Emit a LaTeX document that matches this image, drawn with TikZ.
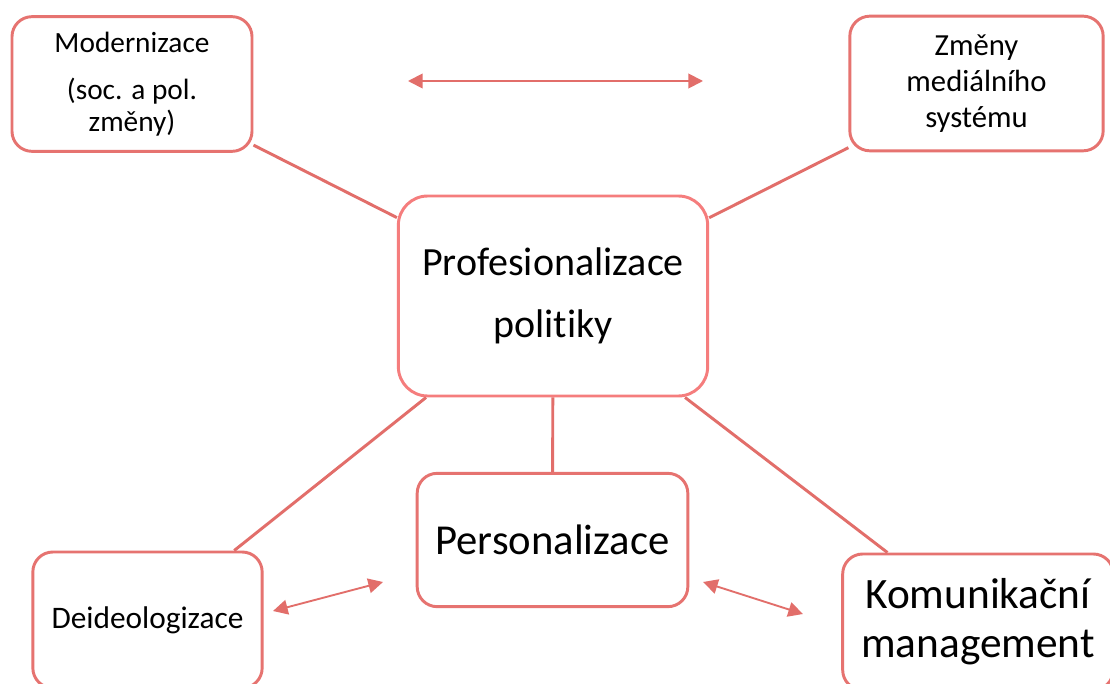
\documentclass[tikz,border=0pt]{standalone}
\usepackage{fontspec}
\setmainfont{Carlito}[Ligatures=NoCommon]
\usetikzlibrary{arrows.meta}
\definecolor{boxred}{RGB}{230,115,112}
\definecolor{centerred}{RGB}{245,125,125}
\definecolor{linered}{RGB}{226,110,106}
\tikzset{
  box/.style={draw=boxred, line width=2.2pt, rounded corners=15pt, fill=white,
    align=center, inner sep=0pt, text=black},
  conn/.style={draw=linered, line width=2.2pt},
  dbl/.style={draw=linered, line width=1.4pt,
    {Triangle[length=11pt,width=11pt]}-{Triangle[length=11pt,width=11pt]}},
}
\begin{document}
\begin{tikzpicture}[x=0.75pt,y=-0.75pt]
\clip (0,0) rectangle (1110,684);
\fill[white] (0,0) rectangle (1110,684);
% nodes
\node[box, minimum width=180pt, minimum height=101pt,
  font=\fontsize{22pt}{23.5pt}\selectfont] (mod) at (132,84)
  {Modernizace\\[12pt](soc. a pol.\\změny)};
\node[box, minimum width=190pt, minimum height=101pt,
  font=\fontsize{23pt}{27pt}\selectfont] (zme) at (976.5,83.5)
  {Změny\\mediálního\\systému};
\node[box, draw=centerred, rounded corners=22pt, minimum width=232pt, minimum height=150pt,
  font=\fontsize{30pt}{46.5pt}\selectfont] (pro) at (553,296)
  {Profesionalizace\\politiky};
\node[box, minimum width=203pt, minimum height=100pt,
  font=\fontsize{32pt}{36pt}\selectfont] (per) at (552.5,540)
  {Personalizace};
\node[box, minimum width=172pt, minimum height=102pt,
  font=\fontsize{23.5pt}{27pt}\selectfont] (dei) at (147.5,620)
  {Deideologizace};
\node[box, minimum width=203pt, minimum height=102pt,
  font=\fontsize{32.5pt}{36.5pt}\selectfont] (kom) at (978,622)
  {Komunikační\\management};
% connectors
\draw[conn] (mod) -- (pro);
\draw[conn] (zme) -- (pro);
\draw[conn] (pro) -- (dei);
\draw[conn] (pro) -- (per);
\draw[conn] (pro) -- (kom);
% free double arrows
\coordinate (a1) at (408,81);
\coordinate (a2) at (703,81);
\coordinate (b1) at (273,611);
\coordinate (b2) at (383,582);
\coordinate (c1) at (703,582);
\coordinate (c2) at (803,614);
\draw[dbl] (a1) -- (a2);
\draw[dbl] (b1) -- (b2);
\draw[dbl] (c1) -- (c2);
\end{tikzpicture}
\end{document}
